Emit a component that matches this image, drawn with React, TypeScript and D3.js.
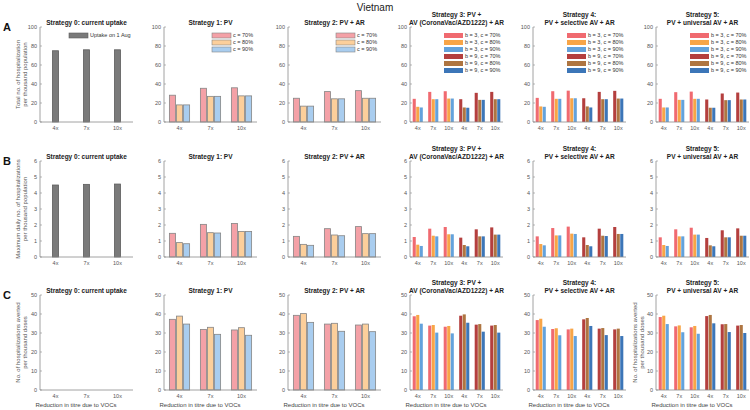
import React from "react";
import * as d3 from "d3";

const reductions = ["4x", "7x", "10x"];
const strategyTitles = [
  ["Strategy 0: current uptake"],
  ["Strategy 1: PV"],
  ["Strategy 2: PV + AR"],
  ["Strategy 3: PV +", "AV (CoronaVac/AZD1222) + AR"],
  ["Strategy 4:", "PV + selective AV + AR"],
  ["Strategy 5:", "PV + universal AV + AR"],
];
const rowLetters = ["A", "B", "C"];
const rowYLabels = [
  ["Total no. of hospitalization", "per thousand population"],
  ["Maximum daily no. of hospitalizations", "per thousand population"],
  ["No. of hospitalizations averted", "per thousand doses"],
];
const rowYTicks = [
  [0, 20, 40, 60, 80, 100],
  [0, 1, 2, 3, 4, 5, 6],
  [0, 10, 20, 30, 40, 50],
];
const s0Legend = ["Uptake on 1 Aug"];
const cLegend = ["c = 70%", "c = 80%", "c = 90%"];
const bcLegend = ["b = 3, c = 70%", "b = 3, c = 80%", "b = 3, c = 90%", "b = 9, c = 70%", "b = 9, c = 80%", "b = 9, c = 90%"];

// Strategy 0 (current uptake)
const s0Total = [75, 76, 76];
const s0Max = [4.5, 4.54, 4.56];
const s0Averted: number[] = [];

// per reduction: [c70, c80, c90]
const s1Total = [[28.2, 18, 18], [35.5, 27, 27], [36, 27.5, 27.5]];
const s2Total = [[25, 16.7, 16.7], [32, 24.4, 24.4], [33, 25, 25]];
const s3TotalB3 = [[24.4, 16, 15.3], [31.7, 24, 24], [32.4, 24.7, 24.7]];
const s3TotalB9 = [[24, 15.3, 15], [30.7, 23.3, 23.3], [31.7, 24, 24]];
const s4TotalB3 = [[25.4, 16.4, 16], [32.4, 24.4, 24.4], [33, 25, 25]];
const s4TotalB9 = [[25, 16.4, 15.3], [31.7, 24, 24], [32.8, 24.7, 24.7]];
const s5TotalB3 = [[24.4, 15.3, 15.3], [31.4, 23.3, 23.3], [32, 24.4, 24.4]];
const s5TotalB9 = [[23.7, 15, 15], [30, 23, 23], [31, 23.7, 23.7]];

const s1Max = [[1.48, 0.9, 0.83], [2.04, 1.52, 1.5], [2.1, 1.6, 1.6]];
const s2Max = [[1.29, 0.79, 0.73], [1.77, 1.375, 1.33], [1.9, 1.46, 1.46]];
const s3MaxB3 = [[1.25, 0.77, 0.69], [1.77, 1.33, 1.29], [1.875, 1.42, 1.42]];
const s3MaxB9 = [[1.21, 0.75, 0.67], [1.73, 1.29, 1.29], [1.85, 1.4, 1.4]];
const s4MaxB3 = [[1.29, 0.81, 0.73], [1.81, 1.35, 1.35], [1.9, 1.46, 1.44]];
const s4MaxB9 = [[1.23, 0.75, 0.67], [1.77, 1.33, 1.31], [1.875, 1.44, 1.44]];
const s5MaxB3 = [[1.23, 0.75, 0.69], [1.73, 1.29, 1.29], [1.83, 1.4, 1.4]];
const s5MaxB9 = [[1.19, 0.73, 0.67], [1.67, 1.23, 1.23], [1.79, 1.33, 1.33]];

const s1Averted = [[37.2, 38.9, 34.7], [31.9, 33, 29.3], [31.6, 32.8, 28.8]];
const s2Averted = [[39.3, 40.2, 35.6], [34.7, 35.1, 30.9], [34.2, 34.7, 30.7]];
const s3AvertedB3 = [[38.8, 39.5, 34.9], [33.9, 34.2, 30.2], [33.3, 33.7, 29.8]];
const s3AvertedB9 = [[39.1, 39.8, 35.4], [34.4, 34.7, 30.7], [33.9, 34.2, 30.2]];
const s4AvertedB3 = [[36.8, 37.5, 33.3], [32.1, 32.5, 28.8], [31.9, 32.3, 28.4]];
const s4AvertedB9 = [[37.2, 37.9, 33.7], [32.3, 32.6, 28.9], [31.9, 32.3, 28.4]];
const s5AvertedB3 = [[38.4, 39.1, 34.7], [33.5, 34, 30.4], [33, 33.7, 29.6]];
const s5AvertedB9 = [[38.9, 39.5, 35.1], [34.6, 34.7, 30.5], [33.9, 34.2, 30]];

// ---- styling / layout ----
const W = 750, H = 410;
const FONT = "'Liberation Sans', Arial, Helvetica, sans-serif";
const panelLefts = [40, 164, 288, 410, 533, 656];
const panelW = 93;
const rows = [
  { top: 27, bottom: 122 },
  { top: 161, bottom: 257 },
  { top: 295, bottom: 390 },
];
const s0Color = "#7a7a7a";
const lightColors = ["#f4a1a7", "#fccf9b", "#a9cdef"];
const lightStroke = "#858585";
const b3Colors = ["#f06a70", "#f8a547", "#63a2dc"];
const b9Colors = ["#b43f3e", "#ae7541", "#3c76b8"];
const axisColor = "#8c8c8c";
const tickText = "#555";

type Bar = { v: number; fill: string; stroke?: string };
type Group = { label: string; bars: Bar[] };

function buildGroups(strategy: number, row: number): Group[] {
  const s0 = [s0Total, s0Max, s0Averted][row];
  if (strategy === 0) {
    return reductions.map((r, i) => ({
      label: r,
      bars: s0.length ? [{ v: s0[i], fill: s0Color, stroke: "#5e5e5e" }] : [],
    }));
  }
  if (strategy === 1 || strategy === 2) {
    const data = strategy === 1 ? [s1Total, s1Max, s1Averted][row] : [s2Total, s2Max, s2Averted][row];
    return reductions.map((r, i) => ({
      label: r,
      bars: data[i].map((v, j) => ({ v, fill: lightColors[j], stroke: lightStroke })),
    }));
  }
  const b3 = [
    [s3TotalB3, s3MaxB3, s3AvertedB3],
    [s4TotalB3, s4MaxB3, s4AvertedB3],
    [s5TotalB3, s5MaxB3, s5AvertedB3],
  ][strategy - 3][row];
  const b9 = [
    [s3TotalB9, s3MaxB9, s3AvertedB9],
    [s4TotalB9, s4MaxB9, s4AvertedB9],
    [s5TotalB9, s5MaxB9, s5AvertedB9],
  ][strategy - 3][row];
  return [
    ...reductions.map((r, i) => ({ label: r, bars: b3[i].map((v, j) => ({ v, fill: b3Colors[j] })) })),
    ...reductions.map((r, i) => ({ label: r, bars: b9[i].map((v, j) => ({ v, fill: b9Colors[j] })) })),
  ];
}

function legendFor(strategy: number) {
  if (strategy === 0) return { items: s0Legend.map((t) => ({ t, fill: s0Color, stroke: "#5e5e5e" })), dx: 29 };
  if (strategy <= 2) return { items: cLegend.map((t, i) => ({ t, fill: lightColors[i], stroke: lightStroke })), dx: 48 };
  return {
    items: bcLegend.map((t, i) => ({ t, fill: i < 3 ? b3Colors[i] : b9Colors[i - 3], stroke: undefined as string | undefined })),
    dx: 34,
  };
}

function YLabel({ x, cy, lines }: { x: number; cy: number; lines: string[] }) {
  return (
    <g>
      {lines.map((l, i) => (
        <text
          key={i}
          transform={`translate(${x + i * 7},${cy}) rotate(-90)`}
          textAnchor="middle"
          fontSize={6}
          fill="#555"
          fontFamily={FONT}
        >
          {l}
        </text>
      ))}
    </g>
  );
}

function Panel({ strategy, row }: { strategy: number; row: number }) {
  const left = panelLefts[strategy];
  const { top, bottom } = rows[row];
  const ticks = rowYTicks[row];
  const yMax = ticks[ticks.length - 1];
  const groups = buildGroups(strategy, row);
  const x0 = d3
    .scaleBand<number>()
    .domain(groups.map((_, i) => i))
    .range([left, left + panelW])
    .padding(0);
  const y = d3.scaleLinear().domain([0, yMax]).range([bottom, top]);
  const gw = x0.bandwidth() * 0.68;
  const slot = gw / 3;
  const title = strategyTitles[strategy];
  const cx = left + panelW / 2;
  const legend = row === 0 ? legendFor(strategy) : null;

  return (
    <g>
      {title.map((t, i) => (
        <text
          key={i}
          x={cx}
          y={top - 2 - (title.length - 1 - i) * 8}
          textAnchor="middle"
          fontSize={6.5}
          fontWeight="bold"
          fill="#222"
          fontFamily={FONT}
        >
          {t}
        </text>
      ))}
      {/* bars */}
      {groups.map((g, gi) => {
        const c = (x0(gi) as number) + x0.bandwidth() / 2;
        const start = c - (g.bars.length * slot) / 2;
        return g.bars.map((b, bi) => (
          <rect
            key={`${gi}-${bi}`}
            x={start + bi * slot + slot * 0.06}
            y={y(b.v)}
            width={slot * 0.88}
            height={y(0) - y(b.v)}
            fill={b.fill}
            stroke={b.stroke ?? "none"}
            strokeWidth={b.stroke ? 0.8 : 0}
          />
        ));
      })}
      {/* axes */}
      <line x1={left} x2={left} y1={top} y2={bottom} stroke={axisColor} strokeWidth={0.8} />
      <line x1={left} x2={left + panelW} y1={bottom} y2={bottom} stroke={axisColor} strokeWidth={0.8} />
      {ticks.map((t) => (
        <g key={t}>
          <line x1={left} x2={left + 2} y1={y(t)} y2={y(t)} stroke={axisColor} strokeWidth={0.6} />
          <text x={left - 3} y={y(t)} dy="0.35em" textAnchor="end" fontSize={5.5} fill={tickText} fontFamily={FONT}>
            {t}
          </text>
        </g>
      ))}
      {groups.map((g, gi) => {
        const c = (x0(gi) as number) + x0.bandwidth() / 2;
        return (
          <text key={gi} x={c} y={bottom + 8} textAnchor="middle" fontSize={5.5} fill={tickText} fontFamily={FONT}>
            {g.label}
          </text>
        );
      })}
      {legend &&
        legend.items.map((it, i) => (
          <g key={i}>
            <rect
              x={left + legend.dx}
              y={top + 6 + i * 7}
              width={19}
              height={5}
              fill={it.fill}
              stroke={it.stroke ?? "none"}
              strokeWidth={it.stroke ? 0.6 : 0}
            />
            <text
              x={left + legend.dx + 21}
              y={top + 8.5 + i * 7}
              dy="0.35em"
              fontSize={5.5}
              fill="#333"
              fontFamily={FONT}
            >
              {it.t}
            </text>
          </g>
        ))}
      {row === 2 && (
        <text x={left + 36} y={407} textAnchor="middle" fontSize={6} fill="#444" fontFamily={FONT}>
          Reduction in titre due to VOCs
        </text>
      )}
    </g>
  );
}

export default function App() {
  return (
    <svg width={W} height={H} style={{ position: "absolute", left: 0, top: 0, background: "#fff" }}>
      <rect width={W} height={H} fill="#fff" />
      <text x={375} y={11} textAnchor="middle" fontSize={10} fill="#222" fontFamily={FONT}>
        Vietnam
      </text>
      {rows.map((r, ri) => (
        <g key={ri}>
          <text x={3} y={r.top + 4} fontSize={11} fontWeight="bold" fill="#111" fontFamily={FONT}>
            {rowLetters[ri]}
          </text>
          <YLabel x={20} cy={(r.top + r.bottom) / 2} lines={rowYLabels[ri]} />
          {strategyTitles.map((_, si) => (
            <Panel key={si} strategy={si} row={ri} />
          ))}
        </g>
      ))}
      <YLabel x={panelLefts[5] - 19} cy={(rows[2].top + rows[2].bottom) / 2} lines={rowYLabels[2]} />
    </svg>
  );
}
